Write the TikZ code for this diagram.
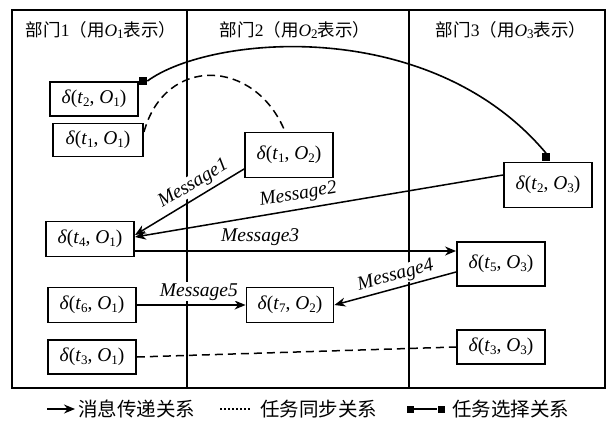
\documentclass[tikz,border=0pt]{standalone}
\usepackage{fontspec}
\setmainfont{Liberation Serif}
\newfontfamily\cjk{Noto Sans CJK SC}
\usetikzlibrary{arrows.meta,calc}
\newcommand{\sbs}[1]{\raisebox{-0.35ex}{\fontsize{13}{13}\selectfont #1}}
\newcommand{\dlt}[2]{\textit{δ}(\textit{t}\sbs{#1}, \textit{O}\sbs{#2})}
\newcommand{\hdr}[1]{{\cjk 部门}#1{\cjk （用}\textit{O}\sbs{#1}{\cjk 表示）}}
\begin{document}
\begin{tikzpicture}[x=1pt,y=-1pt,font=\fontsize{19.5}{22}\selectfont,
  box/.style={draw, line width=1.9pt, minimum width=88pt, minimum height=35pt, inner sep=2pt},
  tallbox/.style={box, minimum height=45pt},
  msg/.style={line width=1.5pt, -{Stealth[length=11pt,width=9pt]}},
  sync/.style={line width=1.5pt, dash pattern=on 8pt off 5pt},
  sel/.style={line width=1.6pt},
  sq/.style={fill=black, minimum size=8pt, inner sep=0pt},
  lbl/.style={fill=white, inner sep=1pt, font=\fontsize{19.5}{22}\selectfont\itshape}]
\useasboundingbox (0,0) rectangle (607,420);
% frame and dividers
\draw[line width=1.8pt] (12,10) rectangle (605,388);
\draw[line width=1.8pt] (187,10) -- (187,388);
\draw[line width=1.8pt] (409,10) -- (409,388);
% headers
\node[font=\fontsize{17.5}{20}\selectfont] (h1) at (101,30) {\hdr{1}};
\node[font=\fontsize{17.5}{20}\selectfont] (h2) at (295,30) {\hdr{2}};
\node[font=\fontsize{17.5}{20}\selectfont] (h3) at (511,30) {\hdr{3}};
% boxes
\node[box, minimum height=34pt] (t2O1) at (94,99) {\dlt{2}{1}};
\node[box, minimum height=33pt, minimum width=90pt] (t1O1) at (98,140) {\dlt{1}{1}};
\node[tallbox] (t1O2) at (289,155) {\dlt{1}{2}};
\node[tallbox] (t2O3) at (548,185) {\dlt{2}{3}};
\node[box] (t4O1) at (90,239) {\dlt{4}{1}};
\node[tallbox, minimum height=44pt] (t5O3) at (501,264) {\dlt{5}{3}};
\node[box] (t6O1) at (92,305) {\dlt{6}{1}};
\node[box, minimum width=87pt] (t7O2) at (290,305) {\dlt{7}{2}};
\node[box, minimum height=34pt] (t3O1) at (92,357) {\dlt{3}{1}};
\node[box, minimum height=34pt] (t3O3) at (501,347) {\dlt{3}{3}};
% task selection
\node[sq, anchor=west] (s1) at (t2O1.north east) {};
\node[sq, anchor=south] (s2) at ([xshift=-2pt]t2O3.north) {};
\draw[sel] (s1.east) .. controls (210,35) and (430,15) .. (s2.north);
% task sync
\draw[sync] ([yshift=8pt]t1O1.east) .. controls (165,55) and (255,58) .. ([xshift=-4pt]t1O2.north);
\draw[sync] (t3O1.east) -- (t3O3.west);
% messages
\draw[msg] ([yshift=-14pt]t1O2.west) -- node[lbl, sloped, above=3pt, pos=0.4] (m1) {Message1} ([yshift=4pt]t4O1.east);
\draw[msg] ([yshift=10pt]t2O3.west) -- node[lbl, sloped, above=4pt, pos=0.55] (m2) {Message2} ([yshift=2pt]t4O1.east);
\draw[msg] ([yshift=-12pt]t4O1.east) -- node[lbl, above=4pt, pos=0.39] (m3) {Message3} ([yshift=-12pt]t4O1.east -| t5O3.west);
\draw[msg] ([yshift=-8pt]t5O3.west) -- node[lbl, sloped, above=2pt, pos=0.47] (m4) {Message4} (t7O2.east);
\draw[msg] (t6O1.east) -- node[lbl, above=3pt, pos=0.57] (m5) {Message5} (t7O2.west);
% legend
\coordinate (la1) at (47,409);
\coordinate (la2) at (75,409);
\draw[msg] (la1) -- (la2);
\node[anchor=west, inner sep=2pt] (lt1) at (76,409) {\cjk 消息传递关系};
\coordinate (lb1) at (220,409);
\coordinate (lb2) at (251,409);
\draw[line width=1.5pt, dash pattern=on 2pt off 2pt] (lb1) -- (lb2);
\node[anchor=west, inner sep=2pt] (lt2) at (258,409) {\cjk 任务同步关系};
\node[sq, minimum size=7pt] (ls1) at (410,409) {};
\node[sq, minimum size=7pt] (ls2) at (441,409) {};
\draw[sel] (ls1) -- (ls2);
\node[anchor=west, inner sep=2pt] (lt3) at (450,409) {\cjk 任务选择关系};
\end{tikzpicture}
\end{document}
